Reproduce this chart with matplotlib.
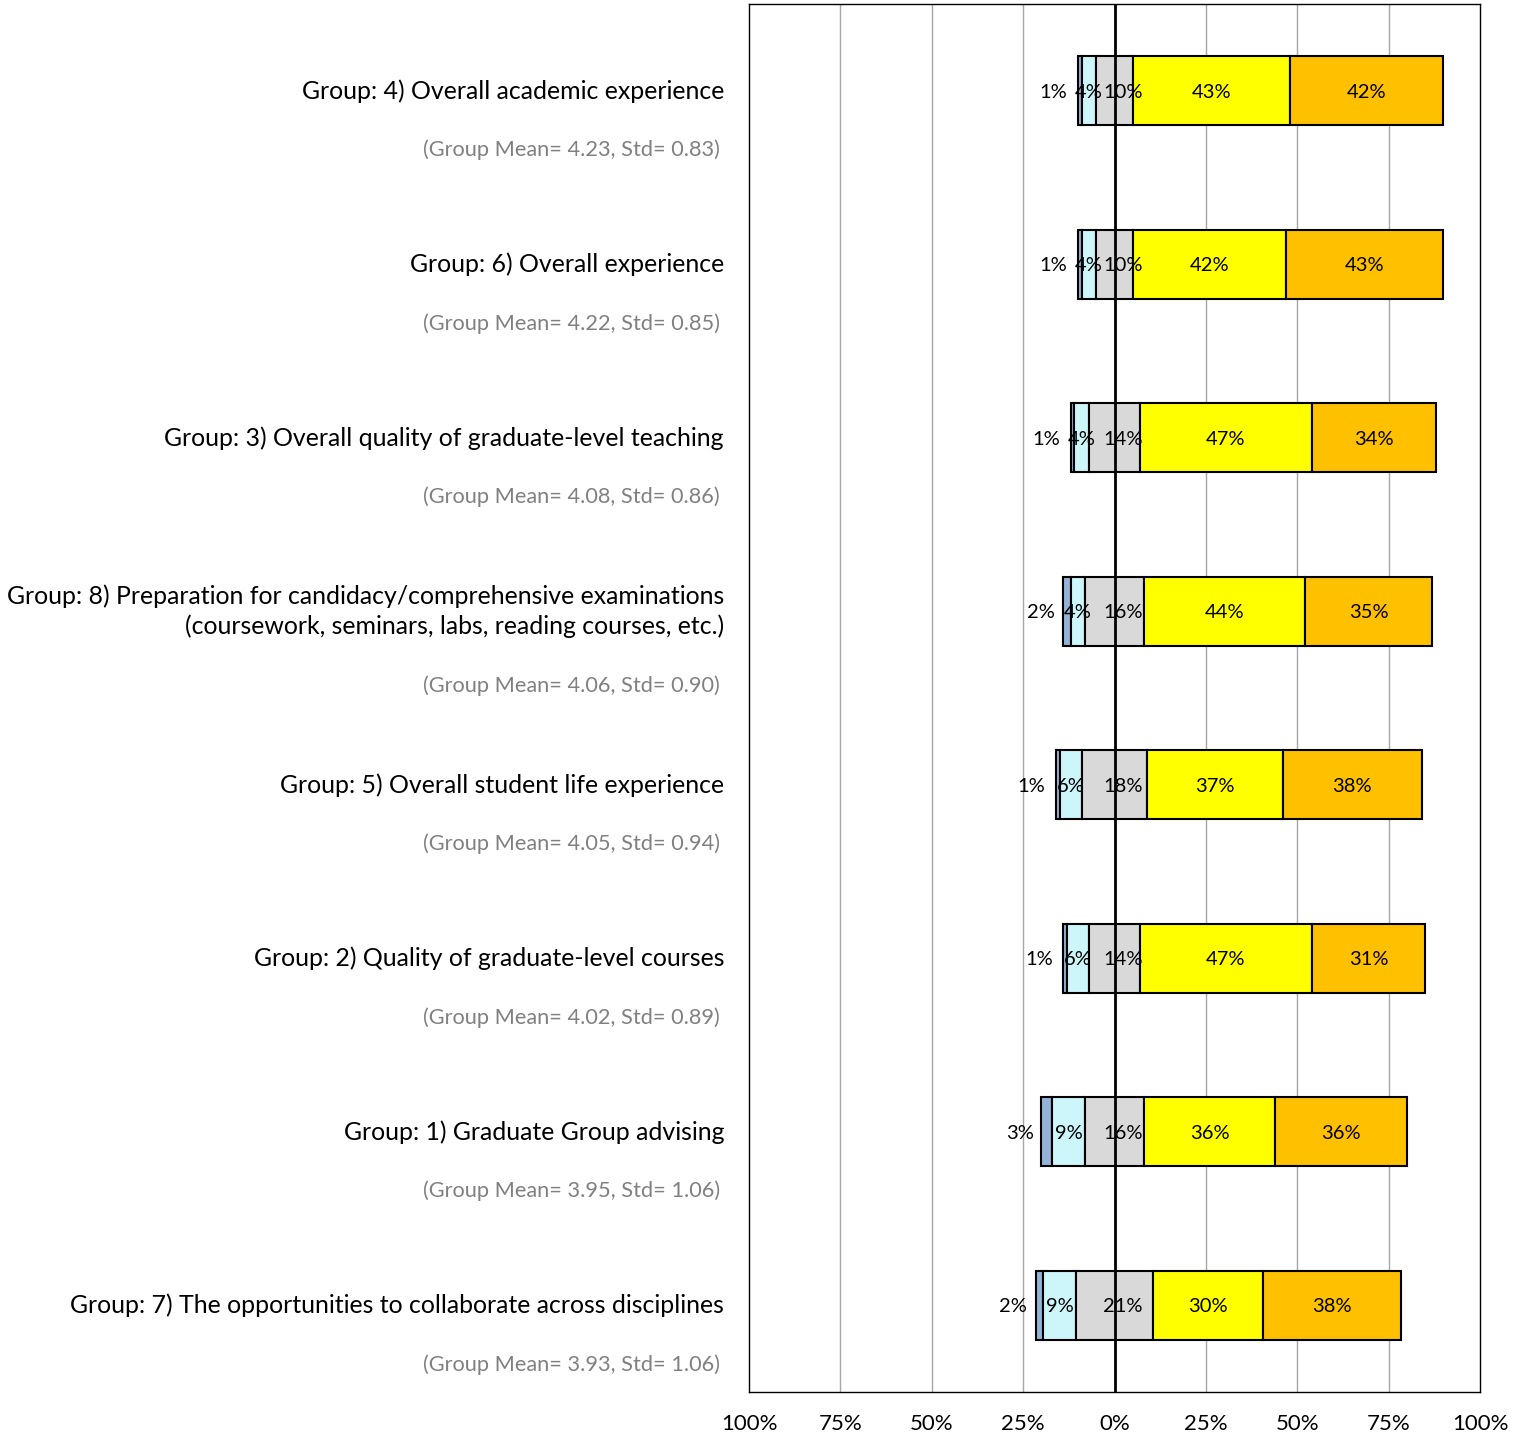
import matplotlib
matplotlib.use("Agg")
import matplotlib.pyplot as plt
import numpy as np
from matplotlib.transforms import blended_transform_factory

plt.rcParams['font.family'] = ['Lato', 'DejaVu Sans']

groups = [
    "Group: 4) Overall academic experience",
    "Group: 6) Overall experience",
    "Group: 3) Overall quality of graduate-level teaching",
    "Group: 8) Preparation for candidacy/comprehensive examinations\n(coursework, seminars, labs, reading courses, etc.)",
    "Group: 5) Overall student life experience",
    "Group: 2) Quality of graduate-level courses",
    "Group: 1) Graduate Group advising",
    "Group: 7) The opportunities to collaborate across disciplines",
]
subtitles = [
    "(Group Mean= 4.23, Std= 0.83)",
    "(Group Mean= 4.22, Std= 0.85)",
    "(Group Mean= 4.08, Std= 0.86)",
    "(Group Mean= 4.06, Std= 0.90)",
    "(Group Mean= 4.05, Std= 0.94)",
    "(Group Mean= 4.02, Std= 0.89)",
    "(Group Mean= 3.95, Std= 1.06)",
    "(Group Mean= 3.93, Std= 1.06)",
]
strongly_disagree = [1, 1, 1, 2, 1, 1, 3, 2]
disagree = [4, 4, 4, 4, 6, 6, 9, 9]
neutral = [10, 10, 14, 16, 18, 14, 16, 21]
agree = [43, 42, 47, 44, 37, 47, 36, 30]
strongly_agree = [42, 43, 34, 35, 38, 31, 36, 38]
tick_values = [-100, -75, -50, -25, 0, 25, 50, 75, 100]
tick_labels = ["100%", "75%", "50%", "25%", "0%", "25%", "50%", "75%", "100%"]

colors = {
    "sd": "#95B3D7",
    "d": "#CCF6FA",
    "n": "#D9D9D9",
    "a": "#FFFF00",
    "sa": "#FFC000",
}

W, H = 1527, 1438
fig = plt.figure(figsize=(W / 100, H / 100), dpi=100)
ax = fig.add_axes([749 / W, 1 - 1392 / H, (1480 - 749) / W, (1392 - 4) / H])

y = np.arange(len(groups))
sd = np.array(strongly_disagree, float)
d = np.array(disagree, float)
n = np.array(neutral, float)
a = np.array(agree, float)
sa = np.array(strongly_agree, float)

h = 0.40
lw = 1.5
n_left = -n / 2
d_left = n_left - d
sd_left = d_left - sd
a_left = n / 2
sa_left = a_left + a

kw = dict(height=h, edgecolor="black", linewidth=lw, zorder=3)
ax.barh(y, sd, left=sd_left, color=colors["sd"], **kw)
ax.barh(y, d, left=d_left, color=colors["d"], **kw)
ax.barh(y, n, left=n_left, color=colors["n"], **kw)
ax.barh(y, a, left=a_left, color=colors["a"], **kw)
ax.barh(y, sa, left=sa_left, color=colors["sa"], **kw)

lab_fs = 14.5
for i in range(len(groups)):
    ax.annotate(f"{int(sd[i])}%", xy=(sd_left[i] + sd[i] / 2, y[i]), xytext=(-19, -1),
                textcoords="offset points", ha="center", va="center", fontsize=lab_fs, zorder=5)
    ax.annotate(f"{int(d[i])}%", xy=(d_left[i] + d[i] / 2, y[i]), xytext=(0, -1),
                textcoords="offset points", ha="center", va="center", fontsize=lab_fs, zorder=5)
    ax.annotate(f"{int(n[i])}%", xy=(0, y[i]), xytext=(6, -1), textcoords="offset points",
                ha="center", va="center", fontsize=lab_fs, zorder=5)
    ax.annotate(f"{int(a[i])}%", xy=(a_left[i] + a[i] / 2, y[i]), xytext=(0, -1),
                textcoords="offset points", ha="center", va="center", fontsize=lab_fs, zorder=5)
    ax.annotate(f"{int(sa[i])}%", xy=(sa_left[i] + sa[i] / 2, y[i]), xytext=(0, -1),
                textcoords="offset points", ha="center", va="center", fontsize=lab_fs, zorder=5)

ax.set_xlim(-100, 100)
ax.set_ylim(len(groups) - 0.5, -0.5)
ax.set_xticks(tick_values)
ax.set_xticklabels(tick_labels, fontsize=16)
ax.tick_params(axis="x", length=0, pad=16)
ax.set_yticks([])
for v in tick_values:
    if v not in (-100, 0, 100):
        ax.axvline(v, color="#A6A6A6", linewidth=1, zorder=1)
ax.axvline(0, color="black", linewidth=2, zorder=4)
for s in ax.spines.values():
    s.set_linewidth(1)
    s.set_color("black")

tr = blended_transform_factory(fig.transFigure, ax.transData)
xr = 724 / W
for i, (g, s) in enumerate(zip(groups, subtitles)):
    nlines = g.count("\n") + 1
    ax.text(xr, y[i], g, transform=tr, ha="right", va="center", fontsize=17.9,
            linespacing=1.3, clip_on=False)
    off = 0.34 + 0.09 * (nlines - 1)
    ax.text(xr - 4 / W, y[i] + off, s, transform=tr, ha="right", va="center",
            fontsize=15.7, color="#808080", clip_on=False)

fig.savefig("out.png", dpi=100)
